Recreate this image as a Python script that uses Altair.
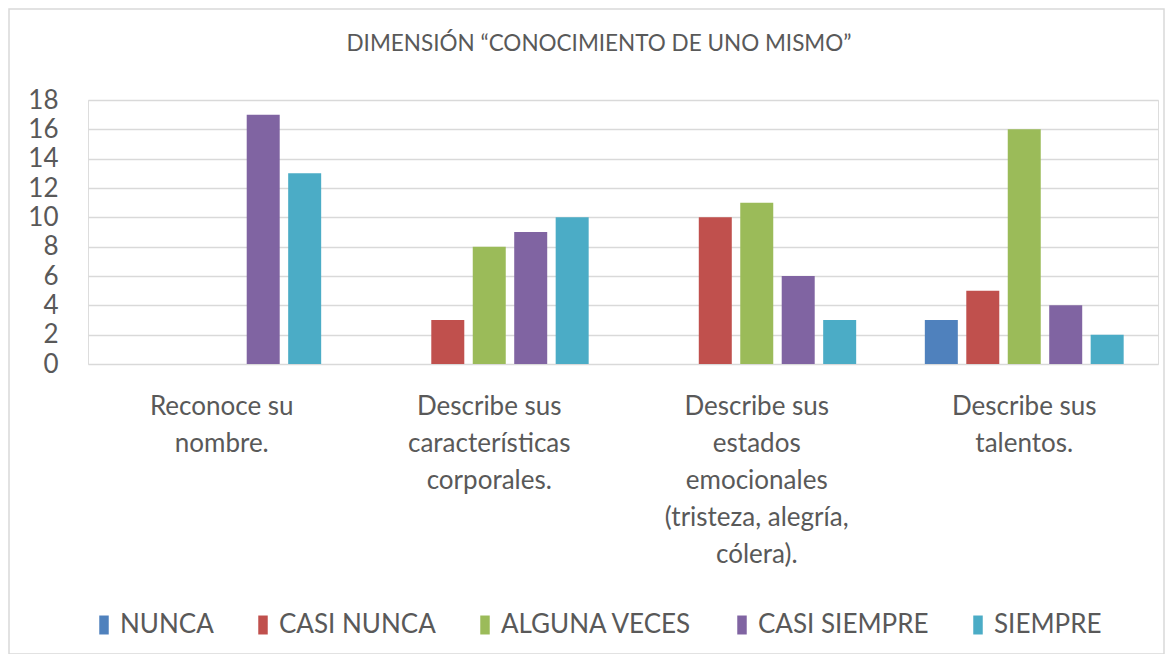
import altair as alt
import pandas as pd

categories = [
    "Reconoce su nombre.",
    "Describe sus características corporales.",
    "Describe sus estados emocionales (tristeza, alegría, cólera).",
    "Describe sus talentos.",
]
category_lines = [
    ["Reconoce su", "nombre."],
    ["Describe sus", "características", "corporales."],
    ["Describe sus", "estados", "emocionales", "(tristeza, alegría,", "cólera)."],
    ["Describe sus", "talentos."],
]
series = ["NUNCA", "CASI NUNCA", "ALGUNA VECES", "CASI SIEMPRE", "SIEMPRE"]
colors = ["#4F81BD", "#C0504D", "#9BBB59", "#8064A2", "#4BACC6"]
values = {
    "NUNCA": [0, 0, 0, 3],
    "CASI NUNCA": [0, 3, 10, 5],
    "ALGUNA VECES": [0, 8, 11, 16],
    "CASI SIEMPRE": [17, 9, 6, 4],
    "SIEMPRE": [13, 10, 3, 2],
}
y_ticks = [0, 2, 4, 6, 8, 10, 12, 14, 16, 18]

rows = []
for s in series:
    for c, v in zip(categories, values[s]):
        rows.append({"categoria": c, "serie": s, "valor": v})
df = pd.DataFrame(rows)

# label expression for wrapped category labels
expr = "''"
for c, lines in reversed(list(zip(categories, category_lines))):
    arr = "[" + ",".join("'" + l + "'" for l in lines) + "]"
    expr = f"datum.value == '{c}' ? {arr} : ({expr})"

FONT = "Lato"
GREY = "#595959"

bars = alt.Chart(df).mark_bar(size=33).encode(
    x=alt.X(
        "categoria:N",
        sort=categories,
        scale=alt.Scale(paddingInner=0.225, paddingOuter=0.1125),
        axis=alt.Axis(
            title=None,
            labelAngle=0,
            labelExpr=expr,
            labelFont=FONT,
            labelFontSize=26,
            labelColor=GREY,
            labelLineHeight=37,
            labelPadding=29,
            ticks=False,
            domain=False,
            labelLimit=400,
        ),
    ),
    xOffset=alt.XOffset(
        "serie:N",
        sort=series,
        scale=alt.Scale(paddingInner=0.2, paddingOuter=0.1),
    ),
    y=alt.Y(
        "valor:Q",
        scale=alt.Scale(domain=[0, 18], nice=False),
        axis=alt.Axis(
            title=None,
            values=y_ticks,
            labelFont=FONT,
            labelFontSize=26,
            labelColor=GREY,
            labelPadding=30,
            ticks=False,
            domain=False,
            gridColor="#D9D9D9",
            gridWidth=1.5,
        ),
    ),
    color=alt.Color(
        "serie:N",
        sort=series,
        scale=alt.Scale(domain=series, range=colors),
        legend=alt.Legend(
            title=None,
            orient="none",
            direction="horizontal",
            legendX=3,
            legendY=512,
            labelFont=FONT,
            labelFontSize=26,
            labelColor=GREY,
            symbolType="M-0.5,-1H0.5V1H-0.5Z",
            symbolSize=360,
            symbolStrokeWidth=0,
            labelOffset=3,
            columnPadding=36,
            labelLimit=400,
        ),
    ),
)

border = alt.Chart(pd.DataFrame({"a": [0]})).mark_rect(
    fill=None, stroke="#D9D9D9", strokeWidth=1.5
).encode(
    x=alt.value(-79),
    x2=alt.value(1076),
    y=alt.value(-91),
    y2=alt.value(554),
)

chart = alt.layer(border, bars).properties(
    width=1070,
    height=264,
    padding={"left": 80, "top": 92, "right": 7, "bottom": 290},
    autosize=alt.AutoSizeParams(type="none"),
    title=alt.TitleParams(
        "DIMENSIÓN “CONOCIMIENTO DE UNO MISMO”",
        font=FONT,
        fontSize=22.5,
        fontWeight="normal",
        color=GREY,
        anchor="middle",
        offset=-47,
        dx=-24,
    ),
).configure_view(stroke=None).configure(background="white")

chart.save("out.html", embed_options={"renderer": "svg", "actions": False})
